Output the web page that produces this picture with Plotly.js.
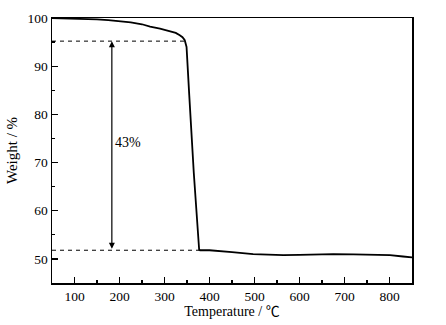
<!DOCTYPE html>
<html><head><meta charset="utf-8">
<script src="https://cdn.plot.ly/plotly-3.0.1.min.js"></script>
<style>html,body{margin:0;padding:0;background:#fff}</style>
</head><body>
<div id="chart" style="width:446px;height:325px"></div>
<script>
const temperature = [50, 75, 100, 125, 150, 175, 200, 225, 250, 268, 290, 312, 325, 334, 340, 345, 349, 355, 365, 377, 379, 400, 416, 450, 497, 530, 564, 600, 640, 675, 720, 760, 801, 830, 850];
const weight      = [100, 99.95, 99.9, 99.8, 99.7, 99.55, 99.4, 99.1, 98.7, 98.2, 97.8, 97.3, 96.9, 96.4, 96.0, 95.4, 94.0, 84.0, 68.0, 51.9, 51.8, 51.8, 51.7, 51.4, 51.0, 50.85, 50.8, 50.85, 50.95, 51.0, 50.95, 50.9, 50.8, 50.5, 50.3];
const onsetLineX = [50, 347];
const onsetLineY = [95.2, 95.2];
const residueLineX = [50, 378];
const residueLineY = [51.8, 51.8];
const arrowX = 183;
const arrowTop = 95.2;
const arrowBottom = 51.8;
const lossLabel = "43%";
const lossLabelPos = [218, 74.2];

const fam = "Liberation Serif, Noto Sans CJK SC";
const font = {family: fam, color: "#000", size: 13.5};

const traces = [
  {x: onsetLineX, y: onsetLineY, mode: "lines", line: {color: "#000", width: 1, dash: "4px,4px"}, hoverinfo: "skip"},
  {x: residueLineX, y: residueLineY, mode: "lines", line: {color: "#000", width: 1, dash: "4px,4px"}, hoverinfo: "skip"},
  {x: temperature, y: weight, mode: "lines", line: {color: "#000", width: 1.8}}
];

const layout = {
  width: 446, height: 325,
  margin: {l: 52, r: 34, t: 18, b: 42},
  showlegend: false,
  paper_bgcolor: "#fff", plot_bgcolor: "#fff",
  font: font,
  xaxis: {
    range: [50, 850], tickvals: [100,200,300,400,500,600,700,800],
    ticks: "inside", ticklen: 6, tickwidth: 1.2, tickcolor: "#000",
    minor: {dtick: 50, tick0: 50, ticks: "inside", ticklen: 3, tickcolor: "#000", showgrid: false},
    showline: true, linecolor: "#000", linewidth: 1.5, mirror: true,
    showgrid: false, zeroline: false,
    tickfont: {family: fam, size: 13.5, color: "#000"},
    title: {text: "Temperature / ℃", font: {family: fam, size: 14, color: "#000"}, standoff: 3}
  },
  yaxis: {
    range: [45, 100], tickvals: [50,60,70,80,90,100],
    ticks: "inside", ticklen: 6, tickwidth: 1.2, tickcolor: "#000",
    minor: {dtick: 5, tick0: 45, ticks: "inside", ticklen: 3, tickcolor: "#000", showgrid: false},
    showline: true, linecolor: "#000", linewidth: 1.5, mirror: true,
    showgrid: false, zeroline: false,
    tickfont: {family: fam, size: 13.5, color: "#000"},
    title: {text: "Weight / %", font: {family: fam, size: 15, color: "#000"}, standoff: 6}
  },
  annotations: [
    {x: arrowX, y: arrowTop, ax: arrowX, ay: arrowBottom, xref: "x", yref: "y", axref: "x", ayref: "y",
     showarrow: true, arrowhead: 2, startarrowhead: 2, arrowside: "end+start", arrowsize: 1, arrowwidth: 1.2, arrowcolor: "#000", text: ""},
    {x: lossLabelPos[0], y: lossLabelPos[1], xref: "x", yref: "y", text: lossLabel, showarrow: false,
     font: {family: fam, size: 14, color: "#000"}}
  ]
};

Plotly.newPlot("chart", traces, layout, {displayModeBar: false, staticPlot: true});
</script>
</body></html>
